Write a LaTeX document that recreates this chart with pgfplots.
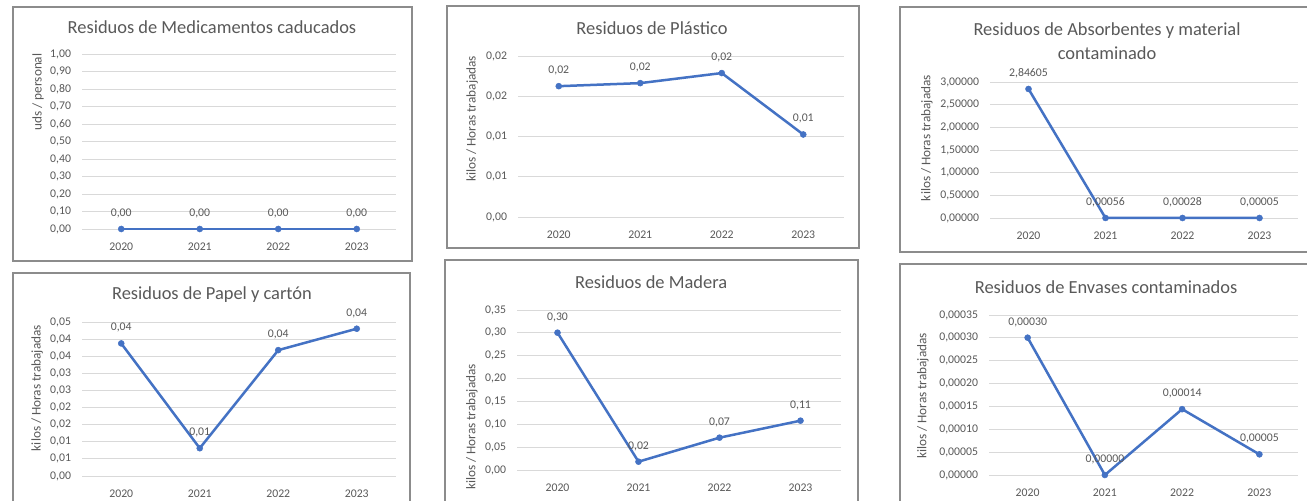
\documentclass[border=0pt]{standalone}
\usepackage{fontspec}
\setmainfont{Carlito}
\usepackage{pgfplots}
\pgfplotsset{compat=1.18}
\definecolor{lineblue}{HTML}{4472C4}
\definecolor{txt}{HTML}{595959}
\definecolor{gridc}{HTML}{D9D9D9}
\definecolor{framec}{HTML}{8C8C8C}
\pgfplotsset{
  resid/.style={
    scale only axis, anchor=south west, clip=false,
    xmin=-0.5, xmax=3.5, xtick={0,1,2,3}, xticklabels={2020,2021,2022,2023},
    scaled y ticks=false, scaled x ticks=false,
    axis line style={draw=none}, major tick length=0pt,
    ymajorgrids, grid style={draw=gridc, line width=0.9bp},
    tick label style={font=\fontsize{11.8}{13}\selectfont, text=txt},
    yticklabel style={xshift=-7.5bp},
    xticklabel style={yshift=-10bp},
    every axis title/.style={anchor=center, align=center, font=\fontsize{18.5}{24}\selectfont, text=txt},
    every axis y label/.style={rotate=90, anchor=center, font=\fontsize{13.3}{15}\selectfont, text=txt},
    nodes near coords, point meta=explicit symbolic,
    every node near coord/.append style={font=\fontsize{11.8}{13}\selectfont, text=txt, yshift=7.5bp},
  },
  wline/.style={color=lineblue, line width=2.5bp, mark=*, mark size=3bp, mark options={fill=lineblue, draw=lineblue, line width=0.5bp}},
}
\begin{document}
\begin{tikzpicture}
\useasboundingbox (0,0) rectangle (1307bp,501bp);
\fill[white] (0,0) rectangle (1307bp,501bp);
% frames
\draw[framec, line width=1.2bp] (13bp,240bp) rectangle (412bp,494bp);
\draw[framec, line width=1.2bp] (447bp,253bp) rectangle (859bp,495bp);
\draw[framec, line width=1.2bp] (900bp,249bp) rectangle (1312bp,494bp);
\draw[framec, line width=1.2bp] (13bp,-10bp) rectangle (410bp,228bp);
\draw[framec, line width=1.2bp] (445bp,-10bp) rectangle (858bp,241bp);
\draw[framec, line width=1.2bp] (900bp,-10bp) rectangle (1312bp,237bp);

% Panel 1
\begin{axis}[resid, at={(82bp,272bp)}, width=314bp, height=175bp,
  ymin=0, ymax=1,
  ytick={0,0.1,0.2,0.3,0.4,0.5,0.6,0.7,0.8,0.9,1},
  yticklabels={{0,00},{0,10},{0,20},{0,30},{0,40},{0,50},{0,60},{0,70},{0,80},{0,90},{1,00}},
  title={Residuos de Medicamentos caducados}, title style={at={(axis description cs:0.414,1.154)}},
  ylabel={uds / personal}, ylabel style={at={(axis description cs:-0.140,0.783)}}]
\addplot[wline, line width=1.6bp] coordinates {(0,0) [0,00] (1,0) [0,00] (2,0) [0,00] (3,0) [0,00]};
\end{axis}

% Panel 2
\begin{axis}[resid, at={(518bp,284bp)}, width=326bp, height=161bp,
  ymin=0, ymax=0.02,
  ytick={0,0.005,0.01,0.015,0.02},
  yticklabels={{0,00},{0,01},{0,01},{0,02},{0,02}},
  title={Residuos de Plástico}, title style={at={(axis description cs:0.411,1.174)}},
  ylabel={kilos / Horas trabajadas}, ylabel style={at={(axis description cs:-0.141,0.609)}}]
\addplot[wline] coordinates {(0,0.01625) [0,02] (1,0.01663) [0,02] (2,0.01788) [0,02] (3,0.01025) [0,01]};
\end{axis}

% Panel 3
\begin{axis}[resid, at={(990bp,283bp)}, width=308bp, height=136bp,
  ymin=0, ymax=3,
  ytick={0,0.5,1,1.5,2,2.5,3},
  yticklabels={{0,00000},{0,50000},{1,00000},{1,50000},{2,00000},{2,50000},{3,00000}},
  title={Residuos de Absorbentes y material\\contaminado}, title style={at={(axis description cs:0.380,1.301)}},
  ylabel={kilos / Horas trabajadas}, ylabel style={at={(axis description cs:-0.205,0.588)}}]
\addplot[wline] coordinates {(0,2.84605) [2,84605] (1,0.00056) [0,00056] (2,0.00028) [0,00028] (3,0.00005) [0,00005]};
\end{axis}

% Panel 4
\begin{axis}[resid, at={(82bp,25bp)}, width=314bp, height=154bp,
  ymin=0, ymax=0.045,
  ytick={0,0.005,0.01,0.015,0.02,0.025,0.03,0.035,0.04,0.045},
  yticklabels={{0,00},{0,01},{0,01},{0,02},{0,02},{0,03},{0,03},{0,04},{0,04},{0,05}},
  title={Residuos de Papel y cartón}, title style={at={(axis description cs:0.414,1.175)}},
  ylabel={kilos / Horas trabajadas}, ylabel style={at={(axis description cs:-0.143,0.571)}}]
\addplot[wline] coordinates {(0,0.03874) [0,04] (1,0.00812) [0,01] (2,0.03678) [0,04] (3,0.04304) [0,04]};
\end{axis}

% Panel 5
\begin{axis}[resid, at={(517bp,31bp)}, width=324bp, height=160bp,
  ymin=0, ymax=0.35,
  ytick={0,0.05,0.1,0.15,0.2,0.25,0.3,0.35},
  yticklabels={{0,00},{0,05},{0,10},{0,15},{0,20},{0,25},{0,30},{0,35}},
  title={Residuos de Madera}, title style={at={(axis description cs:0.414,1.175)}},
  ylabel={kilos / Horas trabajadas}, ylabel style={at={(axis description cs:-0.139,0.269)}}]
\addplot[wline] coordinates {(0,0.3004) [0,30] (1,0.0182) [0,02] (2,0.0707) [0,07] (3,0.1079) [0,11]};
\end{axis}

% Panel 6
\begin{axis}[resid, at={(989bp,26bp)}, width=309bp, height=160bp,
  ymin=0, ymax=0.00035,
  ytick={0,0.00005,0.0001,0.00015,0.0002,0.00025,0.0003,0.00035},
  yticklabels={{0,00000},{0,00005},{0,00010},{0,00015},{0,00020},{0,00025},{0,00030},{0,00035}},
  title={Residuos de Envases contaminados}, title style={at={(axis description cs:0.379,1.175)}},
  ylabel={kilos / Horas trabajadas}, ylabel style={at={(axis description cs:-0.214,0.494)}}]
\addplot[wline] coordinates {(0,0.0003004) [0,00030] (1,0) [0,00000] (2,0.000144) [0,00014] (3,0.0000452) [0,00005]};
\end{axis}
\end{tikzpicture}
\end{document}
